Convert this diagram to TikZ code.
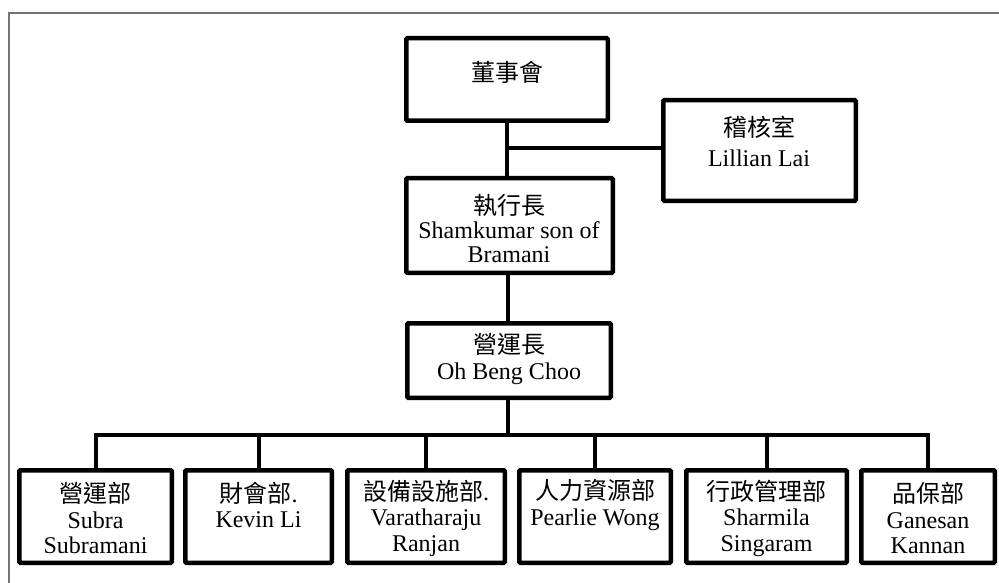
\documentclass[tikz,border=0pt]{standalone}
\usepackage{fontspec}
\setmainfont{Liberation Serif}
\newfontfamily\cjk{Noto Sans CJK TC}
\begin{document}
\begin{tikzpicture}[x=1pt,y=-1pt,
  box/.style={draw=black, line width=4.5pt, rounded corners=1pt, inner sep=0pt},
  txt/.style={align=center, inner sep=0pt, font=\fontsize{24}{25.5}\selectfont},
  link/.style={draw=black, line width=4pt},
  frame/.style={draw=black!55, line width=1.6pt}]
\useasboundingbox (0,0) rectangle (999,583);
% outer frame (only top and left edges visible)
\draw[frame] (9,583) -- (9,13) -- (999,13);

% boxes
\node[box, minimum width=201.5pt, minimum height=82.5pt] (board) at (507,79.5) {};
\node[box, minimum width=192.5pt, minimum height=100.5pt] (audit) at (759.5,150.5) {};
\node[box, minimum width=206.5pt, minimum height=94.5pt] (ceo) at (509.5,225.5) {};
\node[box, minimum width=203.5pt, minimum height=74.5pt] (coo) at (509,360.5) {};
\node[box, minimum width=152.5pt, minimum height=92.5pt] (b1) at (95.5,516.5) {};
\node[box, minimum width=146.5pt, minimum height=92.5pt] (b2) at (258.5,516.5) {};
\node[box, minimum width=157.5pt, minimum height=92.5pt] (b3) at (426,516.5) {};
\node[box, minimum width=151.5pt, minimum height=92.5pt] (b4) at (595,516.5) {};
\node[box, minimum width=160.5pt, minimum height=92.5pt] (b5) at (766.5,516.5) {};
\node[box, minimum width=133.5pt, minimum height=92.5pt] (b6) at (928,516.5) {};

% texts
\node[txt] (boardT) at (507,72) {{\cjk 董事會}};
\node[txt, font=\fontsize{24}{30}\selectfont] (auditT) at (759,141) {{\cjk 稽核室}\\Lillian Lai};
\node[txt, font=\fontsize{24}{24}\selectfont] (ceoT) at (509,229) {{\cjk 執行長}\\Shamkumar son of\\Bramani};
\node[txt] (cooT) at (509,359) {{\cjk 營運長}\\Oh Beng Choo};
\node[txt] (b1T) at (95.5,518) {{\cjk 營運部}\\Subra\\Subramani};
\node[txt] (b2T) at (258.5,505) {{\cjk 財會部}.\\Kevin Li};
\node[txt] (b3T) at (426,518) {{\cjk 設備設施部}.\\Varatharaju\\Ranjan};
\node[txt] (b4T) at (595,505) {{\cjk 人力資源部}\\Pearlie Wong};
\node[txt] (b5T) at (766.5,518) {{\cjk 行政管理部}\\Sharmila\\Singaram};
\node[txt] (b6T) at (928,518) {{\cjk 品保部}\\Ganesan\\Kannan};

% connectors
\coordinate (bus) at (508,435);
\coordinate (branch) at (507,148);
\draw[link] (board.south) -- (board.south |- ceo.north);
\draw[link] (branch) -- (audit.west |- branch);
\draw[link] (ceo.south -| bus) -- (coo.north -| bus);
\draw[link] (coo.south -| bus) -- (bus);
\draw[link, line cap=rect] (b1.north |- bus) -- (b6.north |- bus);
\foreach \b in {b1,b2,b3,b4,b5,b6}
  \draw[link] (\b.north |- bus) -- (\b.north);
\end{tikzpicture}
\end{document}
